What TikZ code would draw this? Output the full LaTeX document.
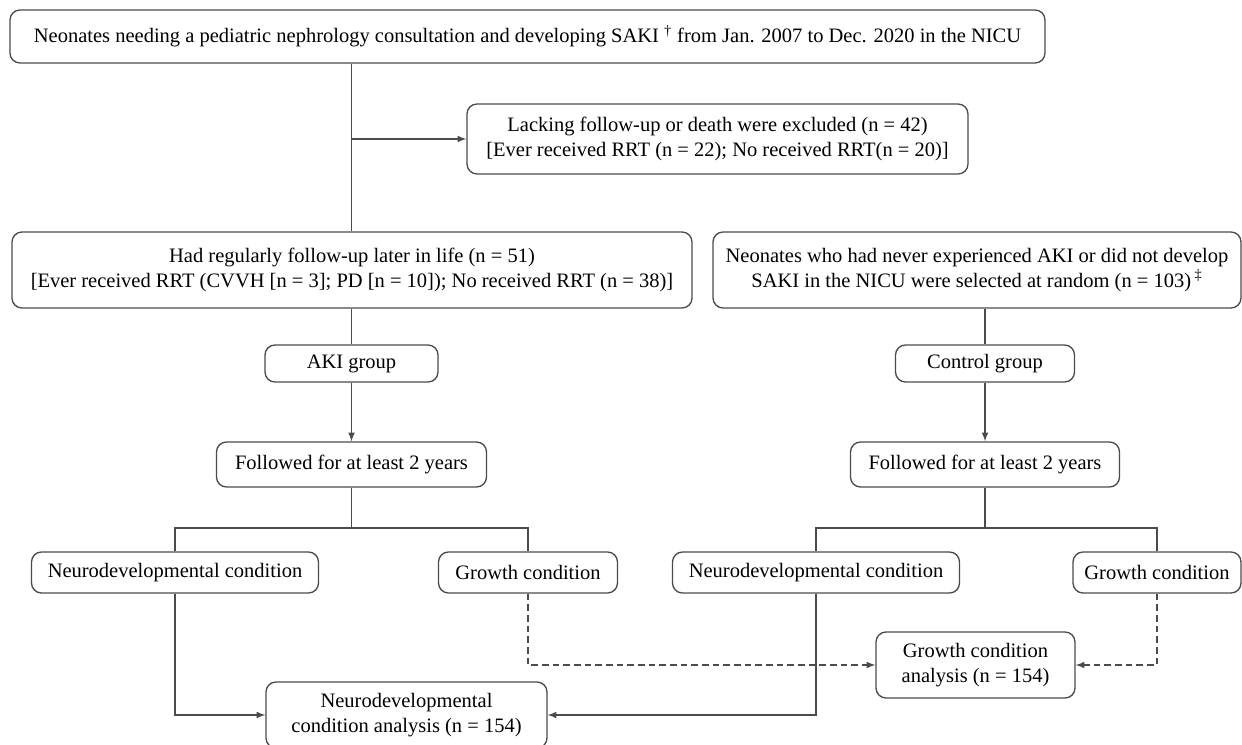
\documentclass[tikz,border=0pt]{standalone}
\usepackage{fontspec}
\setmainfont{Liberation Serif}
\usepackage{tikz}
\definecolor{linec}{RGB}{75,75,75}
\newcommand{\pxu}{0.6pt}

\begin{document}
\begin{tikzpicture}[x=0.6pt, y=-0.6pt,
	box/.style={draw=linec, line width=0.8pt, rounded corners=6pt, align=center, inner sep=0pt, font=\fontsize{12.3}{14.6}\selectfont},
	ln/.style={draw=linec, line width=0.8pt},
	arr/.style={ln, -latex},
	dsh/.style={arr, dash pattern=on 4pt off 2.4pt}]
		\useasboundingbox(0, 0)rectangle(1242, 745);
		\node[box, minimum width=1035*\pxu, minimum height=53*\pxu](top)at(527.5, 36.5){Neonates needing a pediatric nephrology consultation and developing SAKI \textsuperscript{†} from Jan. 2007 to Dec. 2020 in the NICU};
		\node[box, minimum width=501*\pxu, minimum height=70*\pxu](excl)at(717.5, 139){Lacking follow-up or death were excluded (n = 42)\\{}[Ever received RRT (n = 22); No received RRT(n = 20)]};
		\node[box, minimum width=680*\pxu, minimum height=76*\pxu](had)at(352, 270){Had regularly follow-up later in life (n = 51)\\{}[Ever received RRT (CVVH [n = 3]; PD [n = 10]); No received RRT (n = 38)]};
		\node[box, minimum width=528*\pxu, minimum height=76*\pxu](ctl)at(977, 270){Neonates who had never experienced AKI or did not develop\\SAKI in the NICU were selected at random (n = 103)\,\textsuperscript{‡}};
		\node[box, minimum width=173*\pxu, minimum height=37*\pxu](akigrp)at(351.5, 363.5){AKI group};
		\node[box, minimum width=179*\pxu, minimum height=37*\pxu](ctlgrp)at(985, 363.5){Control group};
		\node[box, minimum width=270*\pxu, minimum height=45*\pxu](folL)at(351.5, 464.5){Followed for at least 2 years};
		\node[box, minimum width=269*\pxu, minimum height=45*\pxu](folR)at(985, 464.5){Followed for at least 2 years};
		\node[box, minimum width=287*\pxu, minimum height=41*\pxu](neuL)at(175, 572.5){Neurodevelopmental condition};
		\node[box, minimum width=179*\pxu, minimum height=41*\pxu](groL)at(528, 572.5){Growth condition};
		\node[box, minimum width=287*\pxu, minimum height=41*\pxu](neuR)at(816, 572.5){Neurodevelopmental condition};
		\node[box, minimum width=168*\pxu, minimum height=41*\pxu](groR)at(1157, 572.5){Growth condition};
		\node[box, minimum width=199*\pxu, minimum height=66*\pxu](gana)at(975.5, 665){Growth condition\\analysis (n = 154)};
		\node[box, minimum width=281*\pxu, minimum height=66*\pxu](nana)at(406.5, 715){Neurodevelopmental\\condition analysis (n = 154)};
		\coordinate(barY)at(0, 528);
		\draw[ln](akigrp.north |- top.south)--(akigrp.north |- had.north);
		\draw[arr](akigrp.north |- excl.west)--(excl.west);
		\draw[ln](akigrp.north |- had.south)--(akigrp.north);
		\draw[ln](ctlgrp.north |- ctl.south)--(ctlgrp.north);
		\draw[arr](akigrp)--(folL);
		\draw[arr](ctlgrp)--(folR);
		\draw[ln](folL.south)--(folL.south |- barY);
		\draw[ln](folR.south)--(folR.south |- barY);
		\draw[ln](neuL.north)--(neuL.north |- barY)--(groL.north |- barY)--(groL.north);
		\draw[ln](neuR.north)--(neuR.north |- barY)--(groR.north |- barY)--(groR.north);
		\draw[arr](neuL.south)|-(nana.west);
		\draw[arr](neuR.south)|-(nana.east);
		\draw[dsh](groL.south)|-(gana.west);
		\draw[dsh](groR.south)|-(gana.east);
	\end{tikzpicture}
\end{document}
